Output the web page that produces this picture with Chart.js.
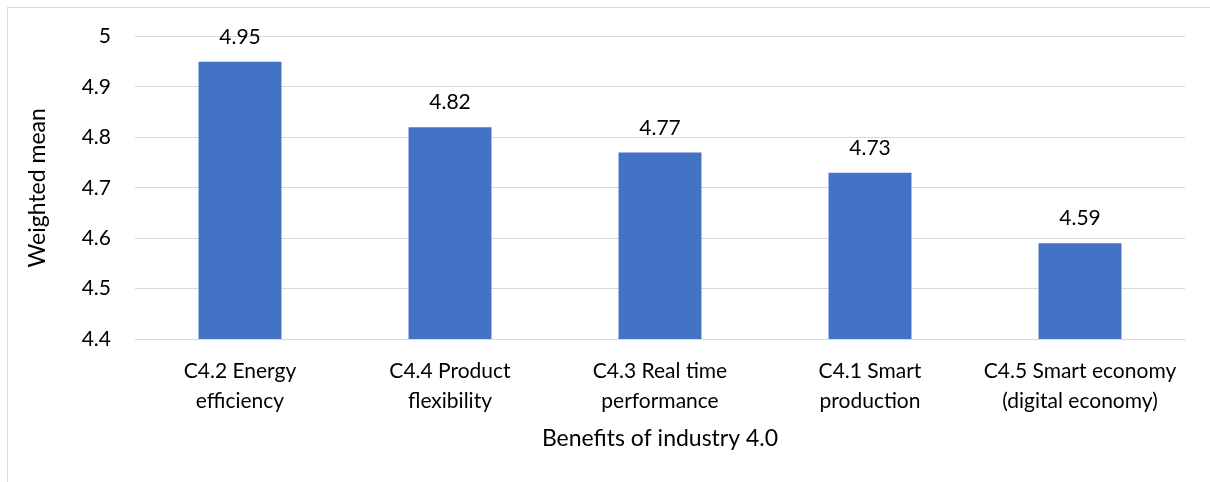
<!DOCTYPE html>
<html>
<head>
<meta charset="utf-8">
<script src="https://cdn.jsdelivr.net/npm/chart.js@4"></script>
<style>
  html, body { margin: 0; padding: 0; background: #fff; }
  #wrap { width: 1210px; height: 482px; }
</style>
</head>
<body>
<div id="wrap"><canvas id="benefitsChart" width="1210" height="482"></canvas></div>
<script>
// Categories and weighted means
const categories = [
    ['C4.2 Energy', 'efficiency'],
    ['C4.4 Product', 'flexibility'],
    ['C4.3 Real time', 'performance'],
    ['C4.1 Smart', 'production'],
    ['C4.5 Smart economy', '(digital economy)']
];
const weightedMeans = [4.95, 4.82, 4.77, 4.73, 4.59];
const yTicks = [4.4, 4.5, 4.6, 4.7, 4.8, 4.9, 5];

const fontFamily = 'Lato, "Liberation Sans", sans-serif';

// Value labels above the bars + the thin outer frame
const valueLabels = {
    id: 'valueLabels',
    afterDatasetsDraw(chart) {
        const ctx = chart.ctx;
        const meta = chart.getDatasetMeta(0);
        ctx.save();
        ctx.font = '21px ' + fontFamily;
        ctx.fillStyle = '#000';
        ctx.textAlign = 'center';
        ctx.textBaseline = 'alphabetic';
        meta.data.forEach((bar, i) => {
            ctx.fillText(weightedMeans[i].toFixed(2), bar.x, bar.y - 18);
        });
        ctx.restore();
    },
    afterDraw(chart) {
        const ctx = chart.ctx;
        ctx.save();
        ctx.strokeStyle = '#d9d9d9';
        ctx.lineWidth = 1;
        ctx.strokeRect(7.5, 7.5, 1400, 1400);
        ctx.restore();
    }
};

const ctx = document.getElementById('benefitsChart').getContext('2d');
new Chart(ctx, {
    type: 'bar',
    data: {
        labels: categories,
        datasets: [{
            label: 'Weighted mean',
            data: weightedMeans,
            backgroundColor: '#4472c4',
            borderWidth: 0,
            barPercentage: 0.79,
            categoryPercentage: 0.5
        }]
    },
    options: {
        responsive: false,
        animation: false,
        layout: { padding: { top: 36, right: 25, left: 0, bottom: 0 } },
        plugins: {
            legend: { display: false },
            tooltip: { enabled: false }
        },
        scales: {
            x: {
                grid: { display: false, drawTicks: false },
                border: { display: true, color: '#d9d9d9' },
                ticks: {
                    color: '#000',
                    padding: 18,
                    maxRotation: 0,
                    font: { family: fontFamily, size: 21, lineHeight: 1.4 }
                },
                title: {
                    display: true,
                    text: 'Benefits of industry 4.0',
                    color: '#000',
                    font: { family: fontFamily, size: 23, lineHeight: 1.2 },
                    padding: { top: 0, bottom: 30 }
                },
                afterFit(scale) { scale.height = 143; }
            },
            y: {
                min: 4.4,
                max: 5,
                afterBuildTicks(scale) {
                    scale.ticks = yTicks.map(v => ({ value: v }));
                },
                grid: { color: '#d9d9d9', drawTicks: false },
                border: { display: false },
                ticks: {
                    color: '#000',
                    padding: 24,
                    font: { family: fontFamily, size: 21 },
                    callback: v => String(Math.round(v * 10) / 10)
                },
                title: {
                    display: true,
                    text: 'Weighted mean',
                    color: '#000',
                    font: { family: fontFamily, size: 23, lineHeight: 1.2 },
                    padding: { top: 24, bottom: 0 }
                },
                afterFit(scale) { scale.width = 135; }
            }
        }
    },
    plugins: [valueLabels]
});
</script>
</body>
</html>
